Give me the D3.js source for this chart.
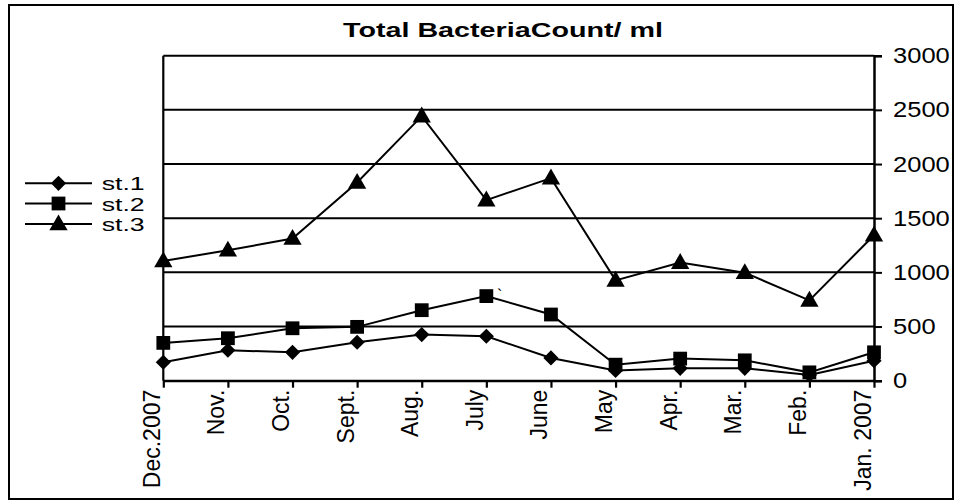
<!DOCTYPE html>
<html>
<head>
<meta charset="utf-8">
<script src="https://cdn.jsdelivr.net/npm/d3@7"></script>
<style>
  body { margin: 0; background: #fff; }
  text { font-family: "Liberation Sans", Arial, sans-serif; fill: #000; }
</style>
</head>
<body>
<script>
'use strict';

// months along the x axis (reverse order as in the original)
const months = ['Dec.2007', 'Nov.', 'Oct.', 'Sept.', 'Aug.', 'July', 'June',
  'May', 'Apr.', 'Mar.', 'Feb.', 'Jan. 2007'];

// series values
const st1 = [170, 281, 262, 355, 426, 410, 210, 95, 114, 114, 53, 185];
const st2 = [349, 392, 484, 497, 651, 781, 611, 148, 204, 188, 77, 262];
const st3 = [1105, 1204, 1312, 1830, 2442, 1667, 1870, 926, 1090, 997, 741, 1343];

const seriesNames = ['st.1', 'st.2', 'st.3'];
const yTicks = [0, 500, 1000, 1500, 2000, 2500, 3000];
const titleText = 'Total BacteriaCount/ ml';

(function() {
  const W = 957, H = 502;
  const svg = d3.select('body').append('svg')
    .attr('width', W)
    .attr('height', H);

  // outer frame
  svg.append('rect')
    .attr('x', 9).attr('y', 5)
    .attr('width', 944).attr('height', 494)
    .attr('fill', 'none')
    .attr('stroke', '#000')
    .attr('stroke-width', 2);

  const x = d3.scalePoint().domain(months).range([163.3, 874]);
  const y = d3.scaleLinear().domain([0, 3000]).range([380.7, 55.7]);

  // horizontal gridlines
  svg.append('g').selectAll('line')
    .data(yTicks)
    .enter()
    .append('line')
    .attr('x1', 163.3).attr('x2', 874)
    .attr('y1', d => y(d)).attr('y2', d => y(d))
    .attr('stroke', '#000')
    .attr('stroke-width', 2);

  // left vertical border of the plot
  svg.append('line')
    .attr('x1', 163.3).attr('x2', 163.3)
    .attr('y1', y(3000)).attr('y2', y(0))
    .attr('stroke', '#000')
    .attr('stroke-width', 2.2);

  // right value axis
  const yAxis = d3.axisRight(y).tickValues(yTicks).tickFormat(d3.format('d'))
    .tickSize(8).tickPadding(11);
  const gy = svg.append('g')
    .attr('transform', 'translate(874,0)')
    .call(yAxis);
  gy.select('.domain').attr('stroke-width', 2.5);
  gy.selectAll('.tick line').attr('stroke-width', 2);
  gy.selectAll('.tick text')
    .attr('font-size', 22)
    .attr('font-family', '"Liberation Sans", Arial, sans-serif')
    .attr('textLength', d => String(d).length * 14.2)
    .attr('lengthAdjust', 'spacingAndGlyphs');

  // bottom category axis
  const xAxis = d3.axisBottom(x).tickSize(7).tickSizeOuter(0);
  const gx = svg.append('g')
    .attr('transform', 'translate(0,' + y(0) + ')')
    .call(xAxis);
  gx.select('.domain').attr('stroke-width', 2.2);
  gx.selectAll('.tick line').attr('stroke-width', 2.2);
  gx.selectAll('.tick text')
    .attr('font-size', 23)
    .attr('font-family', '"Liberation Sans", Arial, sans-serif')
    .attr('text-anchor', 'end')
    .attr('x', null).attr('y', null).attr('dy', null)
    .attr('transform', 'translate(-4,9) rotate(-90)');

  // series lines and markers
  const allSeries = [st1, st2, st3];
  const line = d3.line()
    .x((d, i) => x(months[i]))
    .y(d => y(d));

  // diamond = square turned by 45 degrees
  const symbols = [d3.symbolSquare, d3.symbolSquare, d3.symbolTriangle];
  const symSizes = [115, 190, 145];
  const symTurn = [' rotate(45)', '', ' translate(0,1)'];

  allSeries.forEach((vals, s) => {
    svg.append('path')
      .datum(vals)
      .attr('d', line)
      .attr('fill', 'none')
      .attr('stroke', '#000')
      .attr('stroke-width', 2);

    svg.append('g').selectAll('path')
      .data(vals)
      .enter()
      .append('path')
      .attr('d', d3.symbol().type(symbols[s]).size(symSizes[s]))
      .attr('transform', (d, i) => 'translate(' + x(months[i]) + ',' + y(d) + ')' + symTurn[s])
      .attr('fill', '#000');
  });

  // stray tick mark near the July st.2 point, as in the original
  svg.append('text')
    .attr('x', 497).attr('y', 301)
    .attr('font-size', 16)
    .text('`');

  // legend
  const legY = [183.3, 203.5, 224];
  const legend = svg.append('g');
  seriesNames.forEach((name, s) => {
    legend.append('line')
      .attr('x1', 25).attr('x2', 92)
      .attr('y1', legY[s]).attr('y2', legY[s])
      .attr('stroke', '#000')
      .attr('stroke-width', 2);
    legend.append('path')
      .attr('d', d3.symbol().type(symbols[s]).size(symSizes[s]))
      .attr('transform', 'translate(58.5,' + legY[s] + ')' + symTurn[s])
      .attr('fill', '#000');
    legend.append('text')
      .attr('x', 101.7)
      .attr('y', legY[s] + 7)
      .attr('font-size', 18)
      .attr('textLength', 43)
      .attr('lengthAdjust', 'spacingAndGlyphs')
      .text(name);
  });

  // title
  svg.append('text')
    .attr('x', 503)
    .attr('y', 36.7)
    .attr('text-anchor', 'middle')
    .attr('font-size', 20)
    .attr('font-weight', 'bold')
    .attr('textLength', 320)
    .attr('lengthAdjust', 'spacingAndGlyphs')
    .text(titleText);
})();
</script>
</body>
</html>
